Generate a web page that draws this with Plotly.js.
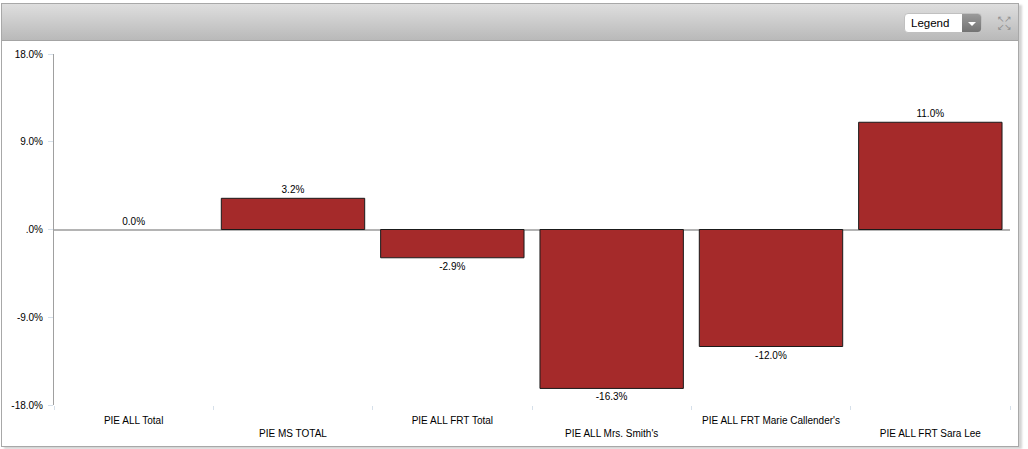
<!DOCTYPE html>
<html>
<head>
<meta charset="utf-8">
<script src="https://cdn.plot.ly/plotly-3.0.1.min.js"></script>
<style>
  html, body { margin:0; padding:0; background:#ffffff; width:1028px; height:449px; overflow:hidden; font-family:"Liberation Sans", Arial, sans-serif; }
  #frame { position:absolute; left:1px; top:3px; width:1016px; height:442px; border:1px solid #a8a8a8; background:#ffffff; box-shadow:3px 2px 2px #d4d4d4; }
  #header { position:absolute; left:0; top:0; width:1016px; height:36px; background:linear-gradient(#dedede, #b9b9b9); border-bottom:1px solid #a4a4a4; }
  #legendsel { position:absolute; left:902px; top:9px; width:78px; height:20px; border-radius:4px; background:#ffffff; border:1px solid #c0c0c0; box-sizing:border-box; overflow:hidden; }
  #legendsel span { position:absolute; left:6px; top:3px; font-size:11.5px; color:#000; }
  #legendbtn { position:absolute; right:0; top:0; width:19px; height:20px; background:linear-gradient(#9a9a9a, #6e6e6e); }
  #legendbtn:after { content:""; position:absolute; left:6px; top:8px; border-left:4px solid transparent; border-right:4px solid transparent; border-top:4px solid #ffffff; }
  #expand { position:absolute; left:995px; top:11px; font-size:9px; line-height:8px; color:#8e8e8e; letter-spacing:-1px; }
  #chart { position:absolute; left:0; top:0; width:1028px; height:449px; }
</style>
</head>
<body>
<div id="frame">
  <div id="header">
    <div id="legendsel"><span>Legend</span><div id="legendbtn"></div></div>
    <div id="expand">↖↗<br>↙↘</div>
  </div>
</div>
<div id="chart"></div>
<script>
const categories = ["PIE ALL Total", "PIE MS TOTAL", "PIE ALL FRT Total", "PIE ALL Mrs. Smith's", "PIE ALL FRT Marie Callender's", "PIE ALL FRT Sara Lee"];
const values = [0.0, 3.2, -2.9, -16.3, -12.0, 11.0];
const yTickVals = [18, 9, 0, -9, -18];
const yTickText = ["18.0%", "9.0%", ".0%", "-9.0%", "-18.0%"];

const tickLabels = categories.map((c, i) => i % 2 === 1 ? "<br>" + c : c);

const trace = {
  type: "bar",
  x: categories,
  y: values,
  text: values.map(v => v.toFixed(1) + "%"),
  textposition: "outside",
  textfont: { family: "Liberation Sans, Arial, sans-serif", size: 10, color: "#000000" },
  cliponaxis: false,
  marker: { color: "#a52a2a", line: { color: "#1a1a1a", width: values.map(v => v === 0 ? 0 : 1) } },
  hoverinfo: "none"
};

const layout = {
  width: 1028, height: 449,
  margin: { l: 54, r: 18, t: 54, b: 44, pad: 0 },
  paper_bgcolor: "rgba(0,0,0,0)",
  plot_bgcolor: "rgba(0,0,0,0)",
  showlegend: false,
  bargap: 0.1,
  font: { family: "Liberation Sans, Arial, sans-serif", size: 10, color: "#000000" },
  xaxis: {
    type: "category",
    tickmode: "array",
    tickvals: categories,
    ticktext: tickLabels,
    tickson: "boundaries",
    ticks: "outside", ticklen: 4, tickcolor: "#d6e0ea", tickwidth: 1,
    showgrid: false, showline: false, zeroline: false,
    tickangle: 0,
    ticklabelstandoff: 8,
    tickfont: { size: 10, color: "#000000" },
    fixedrange: true
  },
  yaxis: {
    range: [-18, 18],
    tickmode: "array",
    tickvals: yTickVals,
    ticktext: yTickText,
    ticks: "outside", ticklen: 5, tickcolor: "#d6e0ea", tickwidth: 1,
    showgrid: false,
    showline: true, linecolor: "#a0a0a0", linewidth: 1,
    zeroline: true, zerolinecolor: "#b4b4b4", zerolinewidth: 2,
    ticklabelstandoff: 3,
    tickfont: { size: 10, color: "#000000" },
    fixedrange: true
  }
};

Plotly.newPlot("chart", [trace], layout, { displayModeBar: false, staticPlot: true });
</script>
</body>
</html>
